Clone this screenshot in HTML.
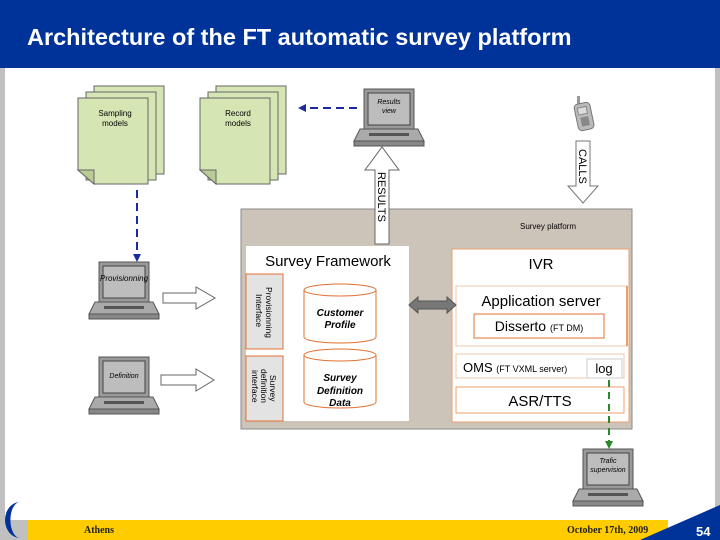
<!DOCTYPE html>
<html><head><meta charset="utf-8"><style>
html,body{margin:0;padding:0;background:#fff}
svg{display:block;font-family:"Liberation Sans",sans-serif}
</style></head><body>
<svg width="720" height="540" viewBox="0 0 720 540" xmlns="http://www.w3.org/2000/svg">
<defs>
<g id="lap">
<rect x="0" y="0" width="50" height="40" fill="#999" stroke="#555"/>
<rect x="4" y="4" width="42" height="32" fill="#bdbdbd" stroke="#444"/>
<polygon points="-4,40 54,40 60,52 -10,52" fill="#aaa" stroke="#555"/>
<rect x="-10" y="52" width="70" height="5" fill="#888" stroke="#555"/>
<rect x="5" y="44" width="40" height="3" fill="#555"/>
</g>
</defs>
<rect width="720" height="540" fill="#fff"/>
<rect x="0" y="68" width="5" height="472" fill="#c0c0c0"/>
<rect x="715" y="68" width="5" height="452" fill="#c0c0c0"/>
<rect x="0" y="0" width="720" height="68" fill="#003399"/>
<text x="27" y="45" fill="#fff" font-size="23.5" font-weight="bold">Architecture of the FT automatic survey platform</text>

<!-- docs -->
<g transform="translate(78,86)"><polygon points="16,0 86,0 86,88 16,88" fill="#d5e6b4" stroke="#666"/><polygon points="8,6 78,6 78,94 8,94" fill="#d5e6b4" stroke="#666"/><polygon points="0,12 70,12 70,98 16,98 0,84" fill="#d5e6b4" stroke="#666"/><polygon points="0,84 16,84 16,98" fill="#b8cc96" stroke="#666"/>
<text x="37" y="30" font-size="8" text-anchor="middle">Sampling</text><text x="37" y="40" font-size="8" text-anchor="middle">models</text></g>
<g transform="translate(200,86)"><polygon points="16,0 86,0 86,88 16,88" fill="#d5e6b4" stroke="#666"/><polygon points="8,6 78,6 78,94 8,94" fill="#d5e6b4" stroke="#666"/><polygon points="0,12 70,12 70,98 16,98 0,84" fill="#d5e6b4" stroke="#666"/><polygon points="0,84 16,84 16,98" fill="#b8cc96" stroke="#666"/>
<text x="38" y="30" font-size="8" text-anchor="middle">Record</text><text x="38" y="40" font-size="8" text-anchor="middle">models</text></g>

<!-- dashed blue -->
<line x1="357" y1="108" x2="304" y2="108" stroke="#1a2aa0" stroke-width="2" stroke-dasharray="8,5"/>
<polygon points="298,108 306,104 306,112" fill="#1a2aa0"/>
<line x1="137" y1="190" x2="137" y2="255" stroke="#1a2aa0" stroke-width="2" stroke-dasharray="8,5"/>
<polygon points="137,262 133,254 141,254" fill="#1a2aa0"/>

<!-- laptops -->
<g transform="translate(364,89)"><use href="#lap"/><text x="25" y="15" font-size="7" font-style="italic" text-anchor="middle">Results</text><text x="25" y="24" font-size="7" font-style="italic" text-anchor="middle">view</text></g>
<g transform="translate(99,262)"><use href="#lap"/><text x="25" y="19" font-size="8" font-style="italic" text-anchor="middle">Provisionning</text></g>
<g transform="translate(99,357)"><use href="#lap"/><text x="25" y="21" font-size="7" font-style="italic" text-anchor="middle">Definition</text></g>
<g transform="translate(583,449)"><use href="#lap"/><text x="25" y="14" font-size="7" font-style="italic" text-anchor="middle">Trafic</text><text x="25" y="23" font-size="7" font-style="italic" text-anchor="middle">supervision</text></g>

<!-- phone -->
<g transform="translate(576,96)">
<rect x="1" y="0" width="3" height="9" fill="#999"/>
<rect x="0" y="7" width="16" height="27" rx="4" fill="#bbb" stroke="#777" transform="rotate(-12 8 20)"/>
<rect x="3" y="11" width="9" height="7" fill="#ddd" stroke="#888" transform="rotate(-12 8 20)"/>
<rect x="4" y="21" width="8" height="9" fill="#888" transform="rotate(-12 8 20)"/>
</g>

<!-- platform -->
<rect x="241" y="209" width="391" height="220" fill="#cdc4b9" stroke="#888"/>
<text x="548" y="229" font-size="8" text-anchor="middle">Survey platform</text>

<!-- RESULTS arrow -->
<polygon points="375,244 389,244 389,170 399,170 382,147 365,170 375,170" fill="#fff" stroke="#666"/>
<text transform="translate(378,172) rotate(90)" font-size="11">RESULTS</text>
<!-- CALLS arrow -->
<polygon points="576,141 590,141 590,186 598,186 583,203 568,186 576,186" fill="#fff" stroke="#777"/>
<text transform="translate(579,149) rotate(90)" font-size="11">CALLS</text>

<!-- Survey Framework -->
<rect x="246" y="246" width="163" height="175" fill="#fff"/>
<text x="328" y="266" font-size="15" text-anchor="middle">Survey Framework</text>
<rect x="246" y="274" width="37" height="75" fill="#e3e3e3" stroke="#e07030"/>
<rect x="246" y="356" width="37" height="65" fill="#e3e3e3" stroke="#e07030"/>
<text transform="translate(266,287) rotate(90)" font-size="8.5">Provisionning</text>
<text transform="translate(256,294) rotate(90)" font-size="8.5">Interface</text>
<text transform="translate(270,375) rotate(90)" font-size="8.5">Survey</text>
<text transform="translate(261,369) rotate(90)" font-size="8.5">definition</text>
<text transform="translate(252,370) rotate(90)" font-size="8.5">interface</text>

<g stroke="#e07030" fill="#fff">
<path d="M304,290 V337 A36,6 0 0 0 376,337 V290"/><ellipse cx="340" cy="290" rx="36" ry="6"/>
<path d="M304,355 V402 A36,6 0 0 0 376,402 V355"/><ellipse cx="340" cy="355" rx="36" ry="6"/>
</g>
<g font-size="10" font-weight="bold" font-style="italic" text-anchor="middle">
<text x="340" y="316">Customer</text><text x="340" y="328">Profile</text>
<text x="340" y="381">Survey</text><text x="340" y="394">Definition</text><text x="340" y="406">Data</text>
</g>

<!-- input arrows -->
<polygon points="163,293 196,293 196,287 215,298 196,309 196,303 163,303" fill="#fff" stroke="#666"/>
<polygon points="161,375 196,375 196,369 214,380 196,391 196,385 161,385" fill="#fff" stroke="#666"/>

<!-- IVR -->
<rect x="452" y="249" width="177" height="173" fill="#fff" stroke="#e8a070"/>
<text x="541" y="269" font-size="15" text-anchor="middle">IVR</text>
<rect x="456" y="286" width="171" height="60" fill="#fff" stroke="#f0c8a8"/>
<line x1="627" y1="286" x2="627" y2="346" stroke="#e8a070" stroke-width="2"/>
<text x="541" y="306" font-size="15" text-anchor="middle">Application server</text>
<rect x="474" y="314" width="130" height="24" fill="#fff" stroke="#e07030"/>
<text x="539" y="331" font-size="14" text-anchor="middle">Disserto <tspan font-size="9">(FT DM)</tspan></text>
<rect x="456" y="354" width="168" height="24" fill="#fff" stroke="#f0c8a8"/>
<text x="463" y="372" font-size="13">OMS <tspan font-size="9">(FT VXML server)</tspan></text>
<rect x="587" y="359" width="35" height="19" fill="#fff" stroke="#ccc"/>
<text x="604" y="373" font-size="13" text-anchor="middle">log</text>
<rect x="456" y="387" width="168" height="26" fill="#fff" stroke="#e8a070"/>
<text x="540" y="406" font-size="15" text-anchor="middle">ASR/TTS</text>

<!-- double arrow -->
<polygon points="409,305 418,297 418,301 447,301 447,297 456,305 447,313 447,309 418,309 418,313" fill="#777" stroke="#555"/>

<!-- green dashed -->
<line x1="609" y1="380" x2="609" y2="442" stroke="#2a8a2a" stroke-width="2" stroke-dasharray="7,5"/>
<polygon points="609,449 605,441 613,441" fill="#2a8a2a"/>

<!-- footer -->
<rect x="28" y="520" width="640" height="20" fill="#ffcc00"/>
<polygon points="640,540 720,505 720,540" fill="#003399"/>
<rect x="0" y="520" width="28" height="20" fill="#c0c0c0"/>
<path d="M20,502 A15,18 0 0 0 20,538 A8,15 0 0 1 20,502 Z" fill="#003399"/>
<text x="84" y="533" font-size="10" font-family="Liberation Serif,serif" font-weight="bold" fill="#222">Athens</text>
<text x="567" y="533" font-size="10" font-family="Liberation Serif,serif" font-weight="bold" fill="#222">October 17th,  2009</text>
<text x="696" y="536" font-size="13" font-weight="bold" fill="#fff">54</text>
</svg>
</body></html>
